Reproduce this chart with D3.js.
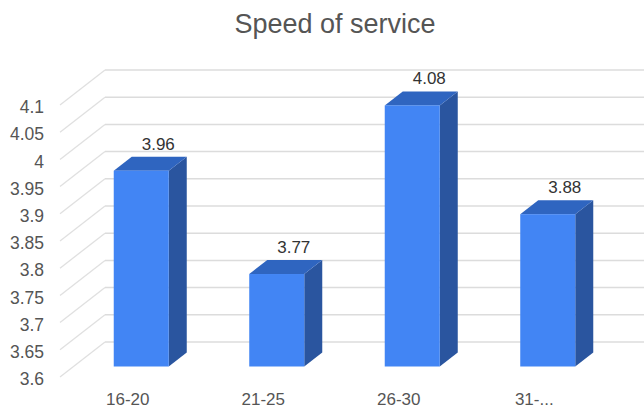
<!DOCTYPE html>
<html>
<head>
<meta charset="utf-8">
<script src="https://cdn.jsdelivr.net/npm/d3@7"></script>
<style>
  html, body { margin: 0; padding: 0; background: #fff; }
  svg { display: block; font-family: "Liberation Sans", Arial, sans-serif; }
</style>
</head>
<body>
<svg id="chart" width="644" height="412"></svg>
<script>
// Average rating for speed of service by age group
const categories = ["16-20", "21-25", "26-30", "31-..."];
const values = [3.96, 3.77, 4.08, 3.88];
const tickValues = [3.6, 3.65, 3.7, 3.75, 3.8, 3.85, 3.9, 3.95, 4, 4.05, 4.1];
const title = "Speed of service";

const W = 644, H = 412;
const svg = d3.select("#chart");

// Front plane of the 3D box
const y = d3.scaleLinear().domain([3.6, 4.1]).range([377, 105]);
const x = d3.scaleBand().domain(categories).range([60, 602]).padding(0);

// Box depth (back wall offset) and bar depth
const depth = { dx: 45, dy: -35 };
const barDepth = { dx: 18, dy: -14 };
const barShift = { dx: (depth.dx - barDepth.dx) / 2, dy: (depth.dy - barDepth.dy) / 2 };
const barW = x.bandwidth() * 0.406;

// Title
svg.append("text")
  .attr("x", 335).attr("y", 33)
  .attr("text-anchor", "middle")
  .attr("font-size", 27)
  .attr("fill", "#555")
  .text(title);

// Gridlines: diagonal side wall + horizontal back wall
const grid = svg.append("g");
tickValues.forEach(t => {
  const fy = y(t);
  grid.append("line")
    .attr("x1", 60).attr("y1", fy)
    .attr("x2", 60 + depth.dx).attr("y2", fy + depth.dy)
    .attr("stroke", "#e0e0e0").attr("stroke-width", 1.3);
  grid.append("line")
    .attr("x1", 60 + depth.dx).attr("y1", fy + depth.dy)
    .attr("x2", W).attr("y2", fy + depth.dy)
    .attr("stroke", "#dcdcdc").attr("stroke-width", 1.5);
});

// Y-axis tick labels
svg.append("g").selectAll("text")
  .data(tickValues)
  .join("text")
  .attr("x", 44)
  .attr("y", d => y(d) + 2)
  .attr("dy", "0.35em")
  .attr("text-anchor", "end")
  .attr("font-size", 17.5)
  .attr("fill", "#555")
  .text(d => d3.format("~g")(d));

// Bars
const bars = svg.append("g").selectAll("g")
  .data(categories.map((c, i) => ({ c, v: values[i] })))
  .join("g");

bars.each(function(d) {
  const g = d3.select(this);
  const cx = x(d.c) + x.bandwidth() / 2;
  const x0 = cx - barW / 2 + barShift.dx;
  const x1 = x0 + barW;
  const yTop = y(d.v) + barShift.dy;
  const yBot = y(3.6) + barShift.dy;
  const ddx = barDepth.dx, ddy = barDepth.dy;

  // side face
  g.append("path")
    .attr("d", `M${x1},${yTop}L${x1 + ddx},${yTop + ddy}L${x1 + ddx},${yBot + ddy}L${x1},${yBot}Z`)
    .attr("fill", "#2a559f");
  // top face
  g.append("path")
    .attr("d", `M${x0},${yTop}L${x0 + ddx},${yTop + ddy}L${x1 + ddx},${yTop + ddy}L${x1},${yTop}Z`)
    .attr("fill", "#2f65c0");
  // front face
  g.append("rect")
    .attr("x", x0).attr("y", yTop)
    .attr("width", barW).attr("height", yBot - yTop)
    .attr("fill", "#4285f4");
  // value label
  g.append("text")
    .attr("x", x0 + ddx + barW / 2 - 1)
    .attr("y", yTop + ddy - 7)
    .attr("text-anchor", "middle")
    .attr("font-size", 17)
    .attr("fill", "#333")
    .text(d3.format(".2f")(d.v));
});

// Category labels
svg.append("g").selectAll("text")
  .data(categories)
  .join("text")
  .attr("x", d => x(d) + x.bandwidth() / 2)
  .attr("y", 405)
  .attr("text-anchor", "middle")
  .attr("font-size", 17)
  .attr("fill", "#555")
  .text(d => d);
</script>
</body>
</html>
